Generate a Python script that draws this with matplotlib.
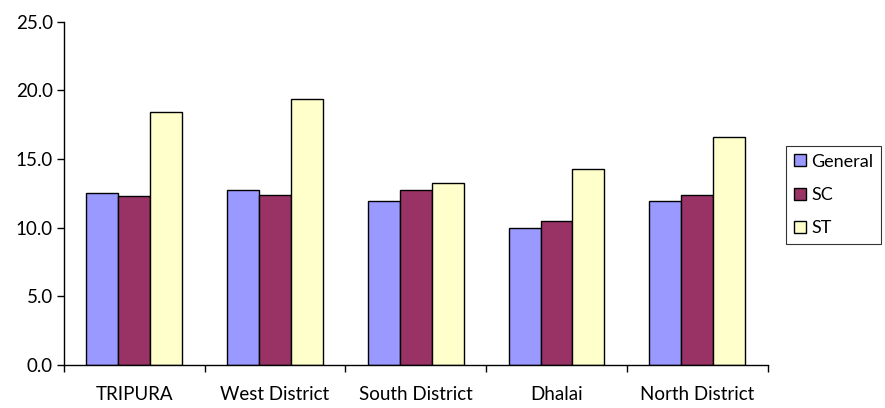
import numpy as np
from matplotlib import pyplot as plt

categories = ["TRIPURA", "West District", "South District", "Dhalai", "North District"]
general = [12.55, 12.75, 11.95, 9.95, 11.95]
sc = [12.3, 12.4, 12.75, 10.45, 12.4]
st = [18.4, 19.35, 13.25, 14.25, 16.6]

series = [("General", general, "#9999FF"), ("SC", sc, "#993366"), ("ST", st, "#FFFFCC")]

plt.rcParams['font.family'] = ['Lato', 'DejaVu Sans']

fig = plt.figure(figsize=(8.85, 4.08), dpi=100)
ax = fig.add_axes([0.0723, 0.1054, 0.795, 0.8415])

x = np.arange(len(categories))
width = 0.227
for i, (name, vals, color) in enumerate(series):
    ax.bar(x + (i - 1) * width, vals, width, color=color, edgecolor="black",
           linewidth=1.0, label=name)

ax.set_xlim(-0.5, len(categories) - 0.5)
ax.set_ylim(0, 25)
ax.set_yticks(np.arange(0, 26, 5))
ax.set_yticklabels([f"{v:.1f}" for v in np.arange(0, 26, 5)], fontsize=13.5)
ax.set_xticks(x)
ax.set_xticklabels(categories, fontsize=13.5)
ax.set_xticks(np.arange(-0.5, len(categories)), minor=True)
ax.tick_params(axis='x', which='major', length=0, pad=15)
ax.tick_params(axis='x', which='minor', length=5, width=1, direction='out')
ax.tick_params(axis='y', length=5, width=1, direction='out', pad=3)

for side in ["top", "right"]:
    ax.spines[side].set_visible(False)
ax.spines["left"].set_linewidth(1)
ax.spines["bottom"].set_linewidth(1)

leg = fig.legend(loc="upper left", bbox_to_anchor=(0.888, 0.643), fontsize=13,
                 frameon=True, fancybox=False, edgecolor="black", handlelength=0.65,
                 handleheight=0.65, handletextpad=0.3, labelspacing=0.95,
                 borderpad=0.45, borderaxespad=0)
leg.get_frame().set_linewidth(0.8)

fig.savefig("out.png", dpi=100)
